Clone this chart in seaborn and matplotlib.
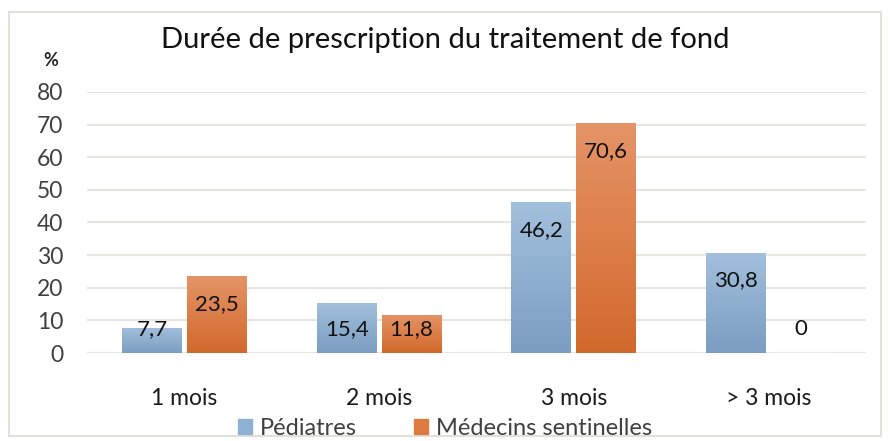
import numpy as np
import pandas as pd
import seaborn as sns
import matplotlib.pyplot as plt
from matplotlib.colors import LinearSegmentedColormap
from matplotlib.patches import Rectangle

# Data
categories = ['1 mois', '2 mois', '3 mois', '> 3 mois']
pediatres = [7.7, 15.4, 46.2, 30.8]
sentinelles = [23.5, 11.8, 70.6, 0]
series = ['Pédiatres', 'Médecins sentinelles']

df = pd.DataFrame({
    'cat': categories * 2,
    'val': pediatres + sentinelles,
    'serie': [series[0]] * 4 + [series[1]] * 4,
})

sns.set_theme(style='white')
plt.rcParams['font.family'] = ['Lato', 'DejaVu Sans']

fig = plt.figure(figsize=(8.9, 4.41), dpi=100)
ax = fig.add_axes([0.0978, 0.1995, 0.875, 0.592])

palette = {series[0]: '#8eb0d3', series[1]: '#de7b3e'}
sns.barplot(data=df, x='cat', y='val', hue='serie', palette=palette,
            width=0.667, gap=0.08, ax=ax, legend=False, saturation=1)

ax.set_ylim(0, 80)
ax.set_xlim(-0.5, 3.5)
ax.set_yticks(range(0, 81, 10))
ax.yaxis.grid(True, color='#e8e4e0', linewidth=1.5)
ax.set_axisbelow(True)
for s in ax.spines.values():
    s.set_visible(False)
ax.tick_params(axis='y', labelsize=16.5, labelcolor='#404040', length=0, pad=17)
ax.tick_params(axis='x', labelsize=16.5, labelcolor='#1a1a1a', length=0, pad=25)
ax.set_xlabel('')
ax.set_ylabel('')

# Gradient fill on bars
grads = {
    series[0]: LinearSegmentedColormap.from_list('b', ['#7b9dc2', '#a2c0dc']),
    series[1]: LinearSegmentedColormap.from_list('o', ['#d2692c', '#e59467']),
}
grad = np.linspace(0, 1, 256).reshape(-1, 1)
for cont, s in zip(ax.containers, series):
    for bar in cont:
        x0, y0 = bar.get_x(), bar.get_y()
        w, h = bar.get_width(), bar.get_height()
        if h <= 0:
            continue
        im = ax.imshow(grad, cmap=grads[s], extent=[x0, x0 + w, y0, y0 + h],
                       origin='lower', aspect='auto', zorder=2)
        im.set_clip_path(bar)
        bar.set_facecolor('none')
        bar.set_edgecolor('none')
    labels = [f'{v:g}'.replace('.', ',') for v in cont.datavalues]
    for bar, lab, v in zip(cont, labels, cont.datavalues):
        ax.text(bar.get_x() + bar.get_width() / 2, max(v - 8.6, 7.4), lab,
                ha='center', va='center', fontsize=16, color='#111111', zorder=3)

ax.set_xlim(-0.5, 3.5)
ax.set_ylim(0, 80)

fig.text(0.5, 0.91, 'Durée de prescription du traitement de fond',
         ha='center', va='center', fontsize=21, color='#111111')
fig.text(0.057, 0.862, '%', ha='center', va='center', fontsize=13,
         fontweight='bold', color='#262626')

# Legend
handles = [Rectangle((0, 0), 1, 1, color=palette[s]) for s in series]
leg = fig.legend(handles, series, loc='center', bbox_to_anchor=(0.5, 0.028),
                 ncol=2, frameon=False, fontsize=17, handlelength=0.58,
                 handleheight=0.58, columnspacing=2.45, handletextpad=0.33,
                 labelcolor='#404040')

# Chart border
fig.patches.append(Rectangle((0.01, 0.011), 0.98, 0.962, transform=fig.transFigure,
                             fill=False, edgecolor='#e3dfdb', linewidth=1.5))

fig.savefig('out.png', dpi=100)
